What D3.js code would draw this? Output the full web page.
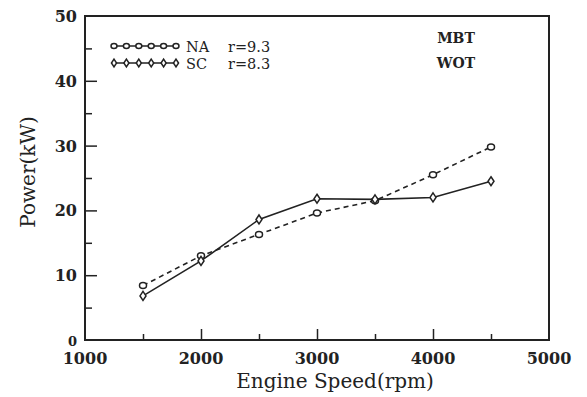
<!DOCTYPE html>
<html><head><meta charset="utf-8">
<script src="https://cdn.jsdelivr.net/npm/d3@7"></script>
<style>body{margin:0;background:#fff}svg{display:block}</style>
</head><body><div id="c"></div>
<script>
const speeds = [1500, 2000, 2500, 3000, 3500, 4000, 4500];
const naPower = [8.4, 13.0, 16.3, 19.6, 21.5, 25.5, 29.8];
const scPower = [6.8, 12.2, 18.6, 21.8, 21.7, 22.0, 24.5];
const xTicks = [1000, 2000, 3000, 4000, 5000];
const yTicks = [0, 10, 20, 30, 40, 50];
const legendNA = ["NA", "r=9.3"];
const legendSC = ["SC", "r=8.3"];
const notes = ["MBT", "WOT"];

const W = 587, H = 397;
const svg = d3.select("#c").append("svg").attr("width", W).attr("height", H);
const x = d3.scaleLinear().domain([1000, 5000]).range([85, 549]);
const y = d3.scaleLinear().domain([0, 50]).range([340, 16]);
const ink = "#222";
const font = "'DejaVu Serif', 'Liberation Serif', serif";

// frame
svg.append("rect").attr("x", x(1000)).attr("y", y(50))
  .attr("width", x(5000) - x(1000)).attr("height", y(0) - y(50))
  .attr("fill", "none").attr("stroke", ink).attr("stroke-width", 2);

// bottom axis ticks (inward)
const xAxis = d3.axisBottom(x).tickValues(d3.range(1500, 5000, 500)).tickSize(0).tickFormat("");
const gx = svg.append("g").attr("transform", `translate(0,${y(0)})`).call(xAxis);
gx.select(".domain").remove();
gx.selectAll(".tick line").attr("y2", d => d % 1000 === 0 ? -11 : -6).attr("stroke", ink).attr("stroke-width", 1.5);
svg.selectAll(".xl").data(xTicks).enter().append("text")
  .attr("x", d => x(d)).attr("y", 364).attr("text-anchor", "middle")
  .attr("font-family", font).attr("font-size", 16).attr("font-weight", "bold").attr("fill", ink)
  .text(d => d);

// left axis ticks (inward)
const yAxis = d3.axisLeft(y).tickValues(d3.range(5, 50, 5)).tickSize(0).tickFormat("");
const gy = svg.append("g").attr("transform", `translate(${x(1000)},0)`).call(yAxis);
gy.select(".domain").remove();
gy.selectAll(".tick line").attr("x2", d => d % 10 === 0 ? 12 : 7).attr("stroke", ink).attr("stroke-width", 1.5);
svg.selectAll(".yl").data(yTicks).enter().append("text")
  .attr("x", 77).attr("y", d => y(d) + 6).attr("text-anchor", "end")
  .attr("font-family", font).attr("font-size", d => d === 0 ? 13 : 16).attr("font-weight", "bold").attr("fill", ink)
  .text(d => d);

// titles
svg.append("text").attr("x", 335).attr("y", 388).attr("text-anchor", "middle")
  .attr("font-family", font).attr("font-size", 20).attr("fill", ink).text("Engine Speed(rpm)");
svg.append("text").attr("transform", `translate(35,172) rotate(-90)`).attr("text-anchor", "middle")
  .attr("font-family", font).attr("font-size", 20).attr("fill", ink).text("Power(kW)");

// lines
const line = d3.line().x((d, i) => x(speeds[i])).y(d => y(d));
svg.append("path").datum(naPower).attr("d", line).attr("fill", "none")
  .attr("stroke", ink).attr("stroke-width", 1.6).attr("stroke-dasharray", "5,4");
svg.append("path").datum(scPower).attr("d", line).attr("fill", "none")
  .attr("stroke", ink).attr("stroke-width", 1.6);

// markers
function circ(g, cx, cy, s) {
  s = s || 1;
  g.append("ellipse").attr("cx", cx).attr("cy", cy).attr("rx", 3.5 * s).attr("ry", 3 * s)
    .attr("fill", "#fff").attr("stroke", ink).attr("stroke-width", 1.5);
}
function diam(g, cx, cy, s) {
  s = s || 1;
  g.append("path").attr("d", `M${cx},${cy-4.5*s}L${cx+3*s},${cy}L${cx},${cy+4.5*s}L${cx-3*s},${cy}Z`)
    .attr("fill", "#fff").attr("stroke", ink).attr("stroke-width", 1.5);
}
const mg = svg.append("g");
naPower.forEach((v, i) => circ(mg, x(speeds[i]), y(v)));
scPower.forEach((v, i) => diam(mg, x(speeds[i]), y(v)));

// legend
const lg = svg.append("g");
[[46, legendNA, circ], [63, legendSC, diam]].forEach(([ly, lab, fn]) => {
  lg.append("line").attr("x1", 114).attr("x2", 176).attr("y1", ly).attr("y2", ly)
    .attr("stroke", ink).attr("stroke-width", 1.3);
  d3.range(6).forEach(k => fn(lg, 114 + k * 12.4, ly, 0.85));
  lg.append("text").attr("x", 186).attr("y", ly + 5.5).attr("font-family", font)
    .attr("font-size", 14.5).attr("fill", ink).text(lab[0]);
  lg.append("text").attr("x", 228).attr("y", ly + 5.5).attr("font-family", font)
    .attr("font-size", 14.5).attr("fill", ink).text(lab[1]);
});
notes.forEach((t, i) => svg.append("text").attr("x", 456).attr("y", 43 + i * 25)
  .attr("text-anchor", "middle").attr("font-family", font).attr("font-size", 14)
  .attr("font-weight", "bold").attr("fill", ink).text(t));
</script></body></html>
